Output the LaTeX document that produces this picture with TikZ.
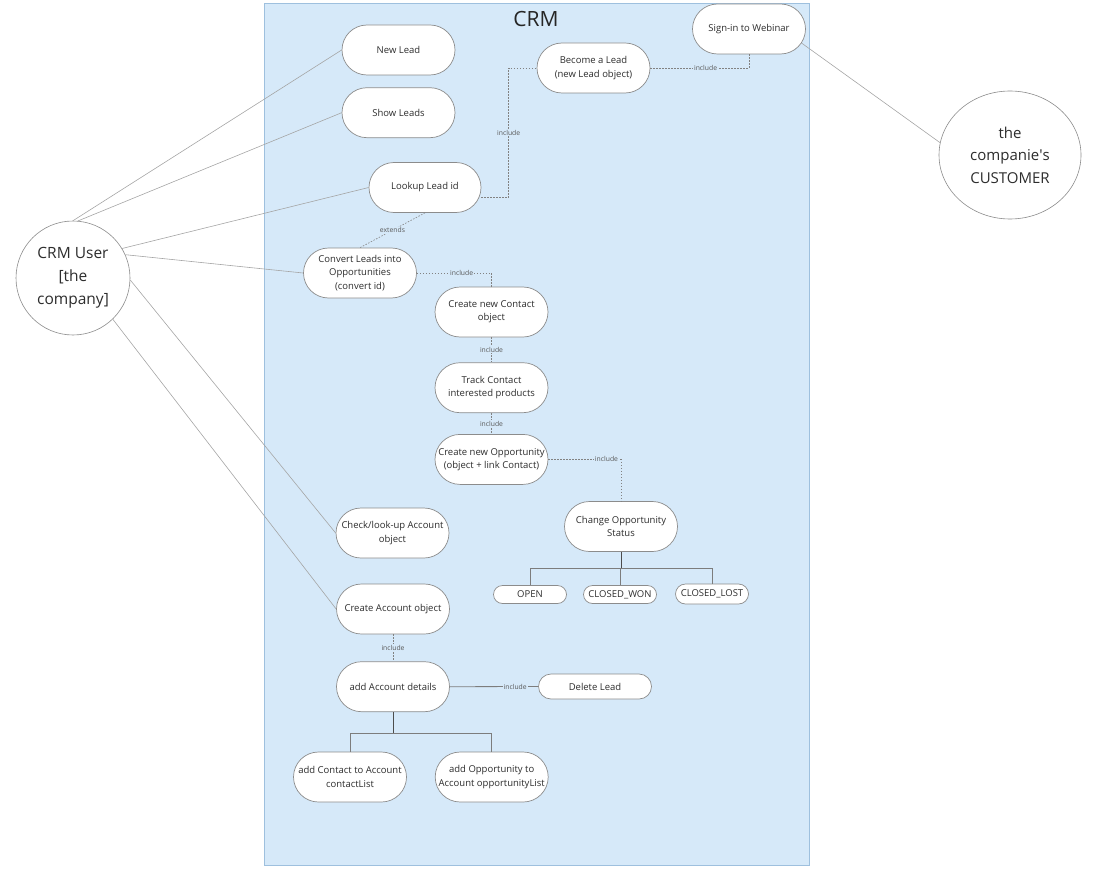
\documentclass[tikz,border=0pt]{standalone}
\usepackage{fontspec}
\setmainfont{Open Sans}
\usetikzlibrary{positioning,shapes.misc,shapes.geometric,calc}
\definecolor{crmfill}{RGB}{214,233,249}
\definecolor{crmborder}{RGB}{158,192,222}
\definecolor{ucgray}{RGB}{140,140,140}
\definecolor{linegray}{RGB}{165,165,165}
\definecolor{dotgray}{RGB}{130,130,130}
\definecolor{treegray}{RGB}{125,125,125}
\definecolor{txtgray}{RGB}{45,45,45}

\begin{document}
\begin{tikzpicture}[x=1pt,y=-1pt,
node distance=12pt and 28pt,
usecase/.style={draw=ucgray, line width=0.7pt, fill=white, rounded rectangle, align=center, minimum width=115pt, minimum height=50pt, inner sep=1pt, font=\fontsize{9.5}{13.3}\selectfont, text=txtgray},
status/.style={usecase, minimum width=75pt, minimum height=18pt},
actor/.style={draw=ucgray, line width=0.6pt, fill=white, align=center, text=txtgray},
assoc/.style={draw=linegray, line width=0.6pt},
inc/.style={draw=dotgray, line width=0.6pt, dash pattern=on 1.5pt off 1.5pt},
lbl/.style={fill=crmfill, inner sep=1pt, font=\fontsize{6.8}{8}\selectfont, text=black!65},
tree/.style={draw=treegray, line width=0.8pt},
stem/.style={draw=black!70, line width=1pt}
]
\useasboundingbox (0,0) rectangle (1102,869);
% system boundary
\node[draw=crmborder, fill=crmfill, line width=0.8pt, minimum width=545pt, minimum height=862pt, inner sep=0pt] (crm) at (536.5,434) {};
\node[font=\fontsize{21}{24}\selectfont, text=black!85] (crmtitle) at (536,19) {CRM};

% actors
\node[actor, circle, minimum size=114pt, font=\fontsize{15.5}{23}\selectfont] (user) at (73,278) {CRM User\\{}[the\\company]};
\node[actor, ellipse, minimum width=142pt, minimum height=128pt, font=\fontsize{15}{22.5}\selectfont] (customer) at (1010,155) {the\\companie\textquotesingle s\\CUSTOMER};

% use cases
\node[usecase] (newlead) at (398.5,50) {New Lead};
\node[usecase, below=of newlead] (showleads) {Show Leads};
\node[usecase, minimum width=114pt] (lookup) at (425,187.5) {Lookup Lead id};
\node[usecase] (become) at (593.5,68) {Become a Lead\\(new Lead object)};
\node[usecase] (signin) at (749,29) {Sign-in to Webinar};
\node[usecase] (convert) at (360,273) {Convert Leads into\\Opportunities\\(convert id)};
\node[usecase] (contact) at (491.5,312) {Create new Contact\\object};
\node[usecase, below=25pt of contact] (track) {Track Contact\\interested products};
\node[usecase, below=21pt of track] (opport) {Create new Opportunity\\(object + link Contact)};
\node[usecase] (status) at (621,526.5) {Change Opportunity\\Status};
\node[status] (open) at (530,594.5) {OPEN};
\node[status] (won) at (620,594.5) {CLOSED\_WON};
\node[status, minimum height=20pt] (lost) at (712,594) {CLOSED\_LOST};
\node[usecase] (check) at (392.5,533) {Check/look-up Account\\object};
\node[usecase] (createacc) at (393,609) {Create Account object};
\node[usecase, below=27pt of createacc] (details) {add Account details};
\node[usecase, minimum height=25pt] (delete) at (595,686.5) {Delete Lead};
\node[usecase] (addcontact) at (350,777) {add Contact to Account\\contactList};
\node[usecase, right=of addcontact] (addopp) {add Opportunity to\\Account opportunityList};

% associations
\draw[assoc] (user.north) -- (newlead.west);
\draw[assoc] (user.85) -- (showleads.west);
\draw[assoc] (user.31) -- (lookup.west);
\draw[assoc] (user.24) -- (convert.west);
\draw[assoc] (user.-2) -- (check.west);
\draw[assoc] (user.-46) -- (createacc.west);
\draw[assoc] (signin.-15) -- (customer.170);

% include / extends
\draw[inc] ([yshift=-10pt]lookup.east) -| node[lbl, pos=0.75] {include} ($(become.west)+(-28,0)$) -- (become.west);
\draw[inc] (become.east) -| node[lbl, pos=0.28] {include} (signin.south);
\draw[inc] (lookup.south) -- node[lbl] {extends} (convert.north);
\draw[inc] (convert.east) -| node[lbl, pos=0.3] {include} (contact.north);
\draw[inc] (contact.south) -- node[lbl] {include} (track.north);
\draw[inc] (track.south) -- node[lbl] {include} (opport.north);
\draw[inc] (opport.east) -| node[lbl, pos=0.4] {include} (status.north);
\draw[inc] (createacc.south) -- node[lbl] {include} (details.north);
\draw[tree] (details.east) -- node[lbl, pos=0.74] {include} (delete.west);

% status values
\coordinate (statusbar) at ($(status.south)+(0,17)$);
\draw[stem] (status.south) -- (statusbar);
\foreach \s in {open,won,lost}
  \draw[tree] (statusbar) -| (\s.north);

% account details
\coordinate (detailsbar) at ($(details.south)+(0,21)$);
\draw[stem] (details.south) -- (detailsbar);
\foreach \s in {addcontact,addopp}
  \draw[tree] (detailsbar) -| (\s.north);
\end{tikzpicture}
\end{document}
